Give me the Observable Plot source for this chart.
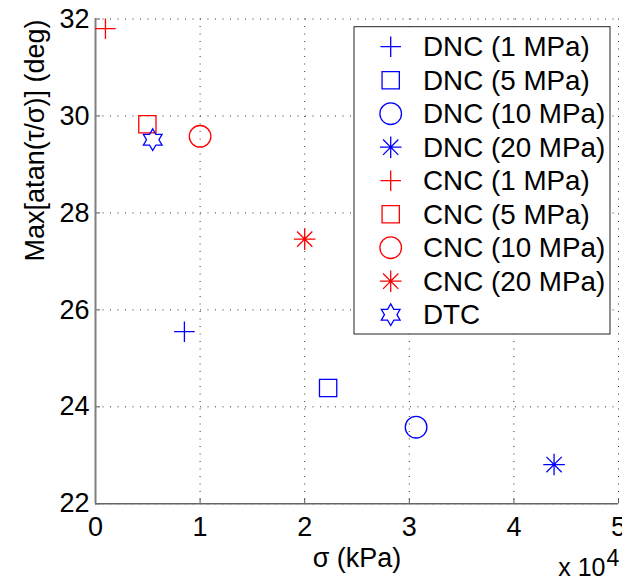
<!DOCTYPE html>
<html><head><meta charset="utf-8">
<script src="https://cdn.jsdelivr.net/npm/d3@7"></script>
<script src="https://cdn.jsdelivr.net/npm/@observablehq/plot@0.6"></script>
<style>body{margin:0;background:#fff;} #chart{width:622px;height:579px;}</style>
</head><body><div id="chart"></div>
<script>
// ---- data ----
const seriesNames = ["DNC (1 MPa)", "DNC (5 MPa)", "DNC (10 MPa)", "DNC (20 MPa)",
                     "CNC (1 MPa)", "CNC (5 MPa)", "CNC (10 MPa)", "CNC (20 MPa)", "DTC"];
const sigmaKPa    = [8500, 22240, 30650, 43840, 950, 4960, 10000, 20000, 5470];
const maxAngleDeg = [25.55, 24.39, 23.58, 22.81, 31.80, 29.83, 29.58, 27.46, 29.51];
const seriesMarkers = ["plus", "square", "circle", "asterisk", "plus", "square", "circle", "asterisk", "hexagram"];
const seriesColors  = ["#0000ff", "#0000ff", "#0000ff", "#0000ff", "#ff0000", "#ff0000", "#ff0000", "#ff0000", "#0000ff"];
const xTicks = [0, 10000, 20000, 30000, 40000, 50000];
const yTicks = [22, 24, 26, 28, 30, 32];
const xLabel = "σ (kPa)";
const yLabel = "Max[atan(τ/σ)] (deg)";
const xMultiplier = "x 10";
const xExponent = "4";

// ---- custom MATLAB-like markers ----
function makeSymbol(kind) {
  return {
    draw(ctx, size) {
      const r = Math.sqrt(size / Math.PI);
      if (kind === "plus") {
        const h = 0.95 * r;
        ctx.moveTo(-h, 0); ctx.lineTo(h, 0);
        ctx.moveTo(0, -h); ctx.lineTo(0, h);
      } else if (kind === "square") {
        const s = 0.8 * r;
        ctx.moveTo(-s, -s); ctx.lineTo(s, -s); ctx.lineTo(s, s); ctx.lineTo(-s, s); ctx.closePath();
      } else if (kind === "circle") {
        ctx.moveTo(r, 0); ctx.arc(0, 0, r, 0, 2 * Math.PI);
      } else if (kind === "asterisk") {
        for (let i = 0; i < 4; i++) {
          const a = i * Math.PI / 4, c = Math.cos(a) * r, s = Math.sin(a) * r;
          ctx.moveTo(-c, -s); ctx.lineTo(c, s);
        }
      } else if (kind === "hexagram") {
        const R = r, q = r / Math.sqrt(3);
        for (let i = 0; i < 12; i++) {
          const a = -Math.PI / 2 + i * Math.PI / 6, rr = i % 2 ? q : R;
          const px = Math.cos(a) * rr, py = Math.sin(a) * rr;
          if (i === 0) ctx.moveTo(px, py); else ctx.lineTo(px, py);
        }
        ctx.closePath();
      }
    }
  };
}
const markerKinds = ["plus", "square", "circle", "asterisk", "hexagram"];
const markerSymbols = markerKinds.map(makeSymbol);

const points = seriesNames.map((name, i) => ({
  name, sigma: sigmaKPa[i], angle: maxAngleDeg[i], marker: seriesMarkers[i]
}));

// ---- layout ----
const W = 622, H = 579, mL = 95, mR = 4, mT = 18.5, mB = 75.7;
const plotW = W - mL - mR, plotH = H - mT - mB;
const R = 10.8, FONT = 27, LEGEND_FONT = 27.8;

const chart = Plot.plot({
  width: W, height: H,
  marginLeft: mL, marginRight: mR, marginTop: mT, marginBottom: mB,
  style: {fontFamily: "'Liberation Sans', Arial, Helvetica, sans-serif", fontSize: FONT + "px", color: "#000", background: "#fff", overflow: "visible"},
  x: {domain: [0, 50000]},
  y: {domain: [22, 32]},
  symbol: {domain: markerKinds, range: markerSymbols},
  color: {domain: seriesNames, range: seriesColors},
  marks: [
    Plot.gridX(xTicks, {stroke: "#333", strokeOpacity: 1, strokeDasharray: "1,6.5"}),
    Plot.gridY(yTicks, {stroke: "#333", strokeOpacity: 1, strokeDasharray: "1,6.5"}),
    Plot.tickX(xTicks, {x: d => d, insetTop: plotH - 5, stroke: "#555"}),
    Plot.tickY(yTicks, {y: d => d, insetRight: plotW - 5, stroke: "#555"}),
    Plot.axisX(xTicks, {tickSize: 0, tickPadding: 13, tickFormat: d => d / 1e4, label: null, fontSize: FONT}),
    Plot.axisY(yTicks, {tickSize: 0, tickPadding: 6, tickFormat: d => d, label: null, fontSize: FONT}),
    Plot.ruleX([0], {stroke: "#808080", strokeWidth: 2}),
    Plot.ruleY([22], {stroke: "#666", strokeWidth: 1.5}),
    Plot.text([yLabel], {frameAnchor: "left", dx: -60.6, rotate: -90, fontSize: FONT}),
    Plot.text([xLabel], {frameAnchor: "bottom", dy: 63, lineAnchor: "bottom", fontSize: FONT}),
    Plot.text([xMultiplier], {frameAnchor: "bottom-right", textAnchor: "end", lineAnchor: "bottom", dx: -13, dy: 72, fontSize: 25}),
    Plot.text([xExponent], {frameAnchor: "bottom-right", textAnchor: "start", lineAnchor: "bottom", dx: -12, dy: 62, fontSize: 23}),
    Plot.dot(points, {x: "sigma", y: "angle", symbol: "marker", stroke: "name", fill: "none", r: R, strokeWidth: 1.3})
  ]
});
document.getElementById("chart").append(chart);

// ---- legend (inside plot area, top right) ----
const svg = d3.select(chart);
const lg = svg.append("g").attr("class", "legend").attr("text-anchor", "start");
const box = {x: 354, y: 26.7, w: 256, h: 307.3};
lg.append("rect").attr("x", box.x).attr("y", box.y).attr("width", box.w).attr("height", box.h)
  .attr("fill", "#fff").attr("stroke", "#222").attr("stroke-width", 1);
seriesNames.forEach((name, i) => {
  const cy = 46.7 + i * 33.5;
  const sym = markerSymbols[markerKinds.indexOf(seriesMarkers[i])];
  lg.append("path")
    .attr("transform", `translate(390.7,${cy})`)
    .attr("d", d3.symbol().type(sym).size(Math.PI * R * R)())
    .attr("fill", "none").attr("stroke", seriesColors[i]).attr("stroke-width", 1.3);
  lg.append("text").attr("x", 423).attr("y", cy).attr("dy", "0.35em")
    .attr("text-anchor", "start")
    .attr("font-size", LEGEND_FONT).attr("fill", "#000").text(name);
});
</script>
</body></html>
